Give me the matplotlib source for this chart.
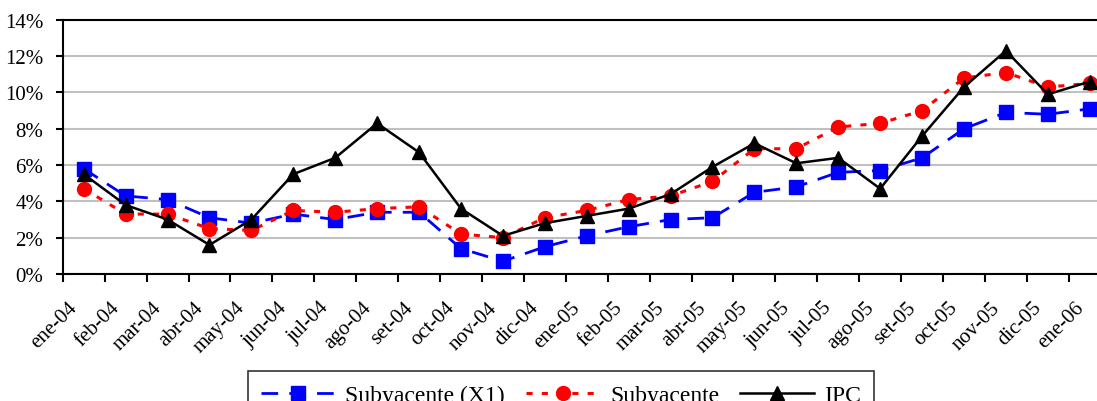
import matplotlib
matplotlib.use("Agg")
import matplotlib.pyplot as plt
import matplotlib.transforms as mtransforms
from matplotlib.ticker import FuncFormatter, FixedLocator

plt.rcParams['font.family'] = ['Liberation Serif', 'DejaVu Serif']

meses = ["ene-04", "feb-04", "mar-04", "abr-04", "may-04", "jun-04", "jul-04",
         "ago-04", "set-04", "oct-04", "nov-04", "dic-04", "ene-05", "feb-05",
         "mar-05", "abr-05", "may-05", "jun-05", "jul-05", "ago-05", "set-05",
         "oct-05", "nov-05", "dic-05", "ene-06"]

# variación % anual
subyacente_x1 = [5.8, 4.3, 4.1, 3.1, 2.8, 3.3, 3.0, 3.4, 3.4, 1.4, 0.7, 1.5, 2.1,
                 2.6, 3.0, 3.1, 4.5, 4.8, 5.6, 5.7, 6.4, 8.0, 8.9, 8.8, 9.1]
subyacente = [4.7, 3.3, 3.3, 2.5, 2.4, 3.5, 3.4, 3.6, 3.7, 2.2, 2.0, 3.1, 3.5,
              4.1, 4.3, 5.1, 6.9, 6.9, 8.1, 8.3, 9.0, 10.8, 11.1, 10.3, 10.5]
ipc = [5.5, 3.8, 3.0, 1.6, 3.0, 5.5, 6.4, 8.3, 6.7, 3.6, 2.1, 2.8, 3.2,
       3.6, 4.4, 5.9, 7.2, 6.1, 6.4, 4.7, 7.6, 10.3, 12.3, 9.9, 10.6]

fig = plt.figure(figsize=(10.97, 4.02), dpi=100)
# el area de grafico se sale un poco por la derecha (igual que en el original)
ax = fig.add_axes([0.0572, 0.316, 0.9553, 0.632])

x = list(range(len(meses)))
ax.plot(x, subyacente_x1, color="#0000ff", lw=2, dashes=(6, 4), marker="s",
        markersize=9.5, label="Subyacente (X1)")
ax.plot(x, subyacente, color="#ff0000", lw=2.2, dashes=(2, 3), marker="o",
        markersize=10, label="Subyacente")
ax.plot(x, ipc, color="black", lw=1.8, marker="^", markersize=10, label="IPC")

ax.set_xlim(-0.5, len(meses) - 0.5)
ax.set_ylim(0, 14)
ax.set_yticks(range(0, 15, 2))
ax.yaxis.set_major_formatter(FuncFormatter(lambda v, p: f"{v:.0f}%"))
ax.yaxis.grid(True, color="#c0c0c0", lw=1.5)
ax.set_axisbelow(True)

ax.xaxis.set_major_locator(FixedLocator([i - 0.5 for i in range(len(meses) + 1)]))
ax.set_xticklabels([])
ax.set_xticks(x, minor=True)
ax.set_xticklabels(meses, minor=True, rotation=45, ha="right", va="center",
                   rotation_mode="anchor", fontsize=15)
ax.tick_params(axis="x", which="minor", length=0, pad=22)
ax.tick_params(axis="x", which="major", direction="out", length=6, width=1.5)
ax.tick_params(axis="y", direction="out", length=5, width=1.5, labelsize=15, pad=9)

# desplazar etiquetas del eje x un poco a la izquierda
shift = mtransforms.ScaledTranslation(-0.09, 0, fig.dpi_scale_trans)
for lbl in ax.get_xticklabels(minor=True):
    lbl.set_transform(lbl.get_transform() + shift)

for s in ["left", "bottom", "top"]:
    ax.spines[s].set_linewidth(1.5)
ax.spines["right"].set_visible(False)

leg = fig.legend(loc="upper center", bbox_to_anchor=(0.5116, 0.0734), ncol=3,
                 fontsize=17, frameon=True, fancybox=False, handlelength=3.1,
                 columnspacing=0.9, handletextpad=0.45, borderpad=0.55,
                 borderaxespad=0)
leg.get_frame().set_edgecolor("black")
leg.get_frame().set_linewidth(1.2)

fig.savefig("out.png", dpi=100)
